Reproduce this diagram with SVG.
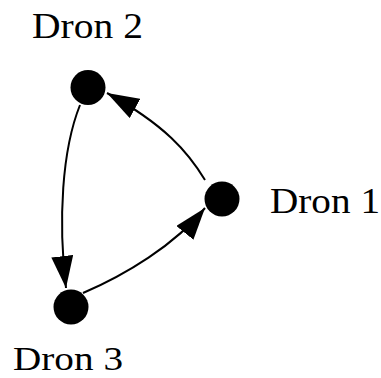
<svg xmlns="http://www.w3.org/2000/svg" width="381" height="378" viewBox="0 0 381 378">
  <style>
    .node { fill: #000; }
    .label { font-family: "Liberation Serif", "Times New Roman", serif; font-size: 36px; fill: #000; }
    .edge { fill: none; stroke: #000; stroke-width: 2; }
  </style>
  <defs>
    <marker id="arrow" viewBox="0 0 32 22" refX="32" refY="11" markerWidth="32" markerHeight="22" markerUnits="userSpaceOnUse" orient="auto">
      <path d="M0,0 L32,11 L0,22 Z" fill="#000"/>
    </marker>
  </defs>
  <rect width="381" height="378" fill="#fff"/>
  <g id="edges">
    <path class="edge" d="M205,180 C188,152 165,125 107,93" marker-end="url(#arrow)"/>
    <path class="edge" d="M80,105 C62,150 58,220 66,288" marker-end="url(#arrow)"/>
    <path class="edge" d="M83,293 C125,275 175,245 205,208" marker-end="url(#arrow)"/>
  </g>
  <g id="dron1">
    <circle class="node" cx="222" cy="199" r="17.5"/>
    <text class="label" x="270" y="213" textLength="110" lengthAdjust="spacingAndGlyphs">Dron 1</text>
  </g>
  <g id="dron2">
    <circle class="node" cx="88" cy="87.5" r="17.5"/>
    <text class="label" x="32" y="38" textLength="111" lengthAdjust="spacingAndGlyphs">Dron 2</text>
  </g>
  <g id="dron3">
    <circle class="node" cx="71" cy="307" r="17.5"/>
    <text class="label" x="13" y="370" font-size="34" style="font-size:34px" textLength="110" lengthAdjust="spacingAndGlyphs">Dron 3</text>
  </g>
</svg>
